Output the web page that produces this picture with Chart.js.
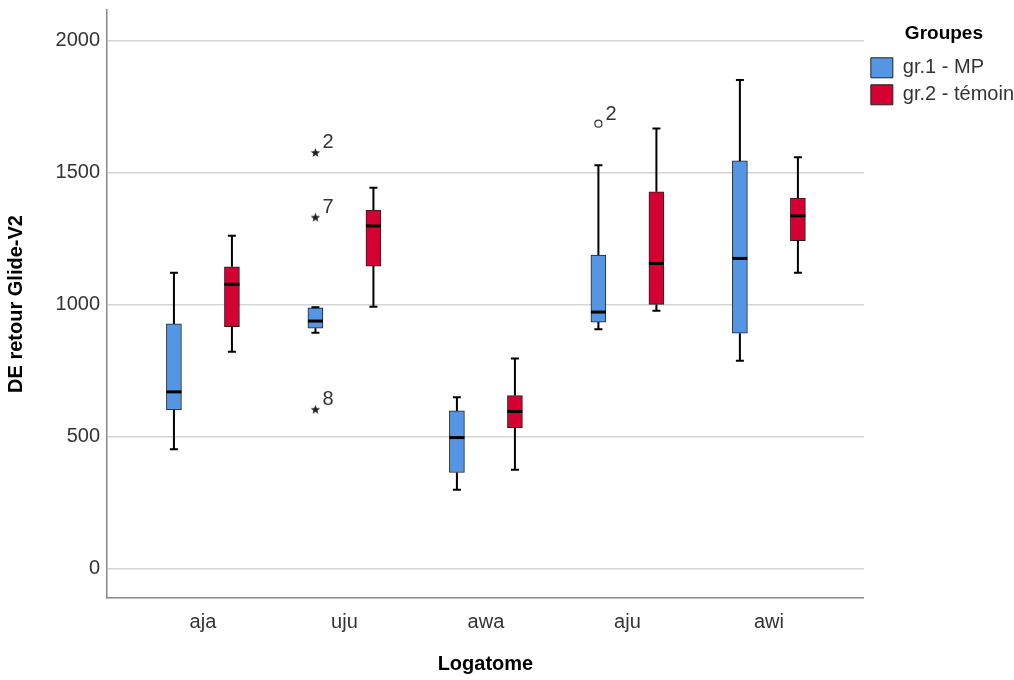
<!DOCTYPE html>
<html>
<head>
<meta charset="utf-8">
<script src="https://cdn.jsdelivr.net/npm/chart.js@4"></script>
<style>
  body { margin: 0; background: #fff; }
</style>
</head>
<body>
<canvas id="chart" width="1014" height="680"></canvas>
<script>
const categories = ['aja', 'uju', 'awa', 'aju', 'awi'];
const groupNames = ['gr.1 - MP', 'gr.2 - témoin'];

// five-number summaries
const g1Min = [453, 894, 300, 907, 788];
const g1Q1 = [602, 911, 365, 934, 892];
const g1Med = [670, 938, 497, 972, 1175];
const g1Q3 = [927, 988, 598, 1188, 1544];
const g1Max = [1121, 990, 650, 1528, 1850];

const g2Min = [822, 992, 375, 977, 1121];
const g2Q1 = [917, 1146, 535, 1001, 1242];
const g2Med = [1077, 1298, 596, 1156, 1336];
const g2Q3 = [1143, 1358, 656, 1427, 1403];
const g2Max = [1261, 1442, 796, 1667, 1558];

// outliers of group 1 (category index, value, case label)
const g1ExtremeCat = [1, 1, 1];
const g1ExtremeVal = [1576, 1331, 604];
const g1ExtremeLbl = ['2', '7', '8'];
const g1OutlierCat = [3];
const g1OutlierVal = [1685];
const g1OutlierLbl = ['2'];

const yTicks = [0, 500, 1000, 1500, 2000];

const FONT = "'Liberation Sans', Arial, sans-serif";
const BLUE = '#5596e4';
const RED = '#d50032';
const SHIFT = 0.205;

const groups = [
  { shift: -SHIFT, min: g1Min, q1: g1Q1, med: g1Med, q3: g1Q3, max: g1Max },
  { shift: SHIFT, min: g2Min, q1: g2Q1, med: g2Med, q3: g2Q3, max: g2Max }
];

// small filled star for extreme values
function starImage() {
  const c = document.createElement('canvas');
  c.width = 11; c.height = 11;
  const g = c.getContext('2d');
  g.beginPath();
  for (let i = 0; i < 10; i++) {
    const r = i % 2 === 0 ? 5 : 2.1;
    const a = -Math.PI / 2 + i * Math.PI / 5;
    const px = 5.5 + r * Math.cos(a), py = 6 + r * Math.sin(a);
    if (i === 0) g.moveTo(px, py); else g.lineTo(px, py);
  }
  g.closePath();
  g.fillStyle = '#222';
  g.fill();
  return c;
}

const whiskers = {
  id: 'whiskers',
  afterDatasetsDraw(chart) {
    const ctx = chart.ctx;
    const xs = chart.scales.x, ys = chart.scales.y;
    ctx.save();
    ctx.strokeStyle = '#000';
    groups.forEach(gr => {
      categories.forEach((c, i) => {
        const x = xs.getPixelForValue(i + gr.shift);
        const yMin = ys.getPixelForValue(gr.min[i]);
        const yQ1 = ys.getPixelForValue(gr.q1[i]);
        const yQ3 = ys.getPixelForValue(gr.q3[i]);
        const yMax = ys.getPixelForValue(gr.max[i]);
        const yMed = ys.getPixelForValue(gr.med[i]);
        ctx.lineWidth = 2;
        ctx.beginPath();
        ctx.moveTo(x, yQ3); ctx.lineTo(x, yMax);
        ctx.moveTo(x, yQ1); ctx.lineTo(x, yMin);
        ctx.moveTo(x - 4, yMax); ctx.lineTo(x + 4, yMax);
        ctx.moveTo(x - 4, yMin); ctx.lineTo(x + 4, yMin);
        ctx.stroke();
        ctx.lineWidth = 3;
        ctx.beginPath();
        ctx.moveTo(x - 7.5, yMed); ctx.lineTo(x + 7.5, yMed);
        ctx.stroke();
      });
    });
    // case labels next to outliers
    ctx.fillStyle = '#333';
    ctx.font = '20px ' + FONT;
    ctx.textBaseline = 'alphabetic';
    const lab = (cats, vals, lbls) => cats.forEach((c, k) => {
      const x = xs.getPixelForValue(c - SHIFT);
      const y = ys.getPixelForValue(vals[k]);
      ctx.fillText(lbls[k], x + 7, y - 4);
    });
    lab(g1ExtremeCat, g1ExtremeVal, g1ExtremeLbl);
    lab(g1OutlierCat, g1OutlierVal, g1OutlierLbl);
    ctx.restore();
  }
};

new Chart(document.getElementById('chart'), {
  type: 'bar',
  data: {
    datasets: [
      {
        label: groupNames[0],
        data: categories.map((c, i) => ({ x: i - SHIFT, y: [g1Q1[i], g1Q3[i]] })),
        backgroundColor: BLUE,
        borderColor: '#222',
        borderWidth: 1,
        borderSkipped: false,
        barThickness: 15,
        grouped: false
      },
      {
        label: groupNames[1],
        data: categories.map((c, i) => ({ x: i + SHIFT, y: [g2Q1[i], g2Q3[i]] })),
        backgroundColor: RED,
        borderColor: '#222',
        borderWidth: 1,
        borderSkipped: false,
        barThickness: 15,
        grouped: false
      },
      {
        type: 'scatter',
        label: 'extremes',
        data: g1ExtremeCat.map((c, k) => ({ x: c - SHIFT, y: g1ExtremeVal[k] })),
        pointStyle: starImage(),
        pointRadius: 5
      },
      {
        type: 'scatter',
        label: 'outliers',
        data: g1OutlierCat.map((c, k) => ({ x: c - SHIFT, y: g1OutlierVal[k] })),
        pointStyle: 'circle',
        pointRadius: 3.5,
        borderColor: '#333',
        borderWidth: 1.2,
        backgroundColor: '#fff'
      }
    ]
  },
  options: {
    responsive: false,
    animation: false,
    layout: { padding: { top: 10, left: 0, right: -10, bottom: 0 } },
    plugins: {
      legend: {
        position: 'right',
        align: 'start',
        title: {
          display: true,
          text: 'Groupes',
          color: '#000',
          font: { family: FONT, size: 19, weight: 'bold' },
          padding: { top: 14, bottom: 4 }
        },
        labels: {
          boxWidth: 22,
          boxHeight: 20,
          padding: 7,
          color: '#333',
          font: { family: FONT, size: 20 },
          filter: item => item.datasetIndex < 2
        }
      },
      tooltip: { enabled: false }
    },
    scales: {
      x: {
        type: 'linear',
        offset: false,
        min: -0.678,
        max: 4.671,
        afterBuildTicks: scale => { scale.ticks = categories.map((c, i) => ({ value: i })); },
        afterFit: scale => { scale.height = 82; scale.paddingLeft = 0; scale.paddingRight = 0; },
        grid: { display: false },
        border: { color: '#888', width: 1.5 },
        ticks: {
          padding: 4,
          color: '#333',
          font: { family: FONT, size: 20 },
          callback: v => categories[v]
        },
        title: {
          display: true,
          text: 'Logatome',
          color: '#000',
          font: { family: FONT, size: 20, weight: 'bold' },
          padding: { top: 18 }
        }
      },
      y: {
        min: -110,
        max: 2115,
        afterBuildTicks: scale => { scale.ticks = yTicks.map(v => ({ value: v })); },
        afterFit: scale => { scale.width = 107; scale.paddingTop = 0; scale.paddingBottom = 0; },
        grid: { color: '#d4d4d4', lineWidth: 1.6, drawTicks: false },
        border: { color: '#888', width: 1.5 },
        ticks: {
          padding: 7,
          color: '#333',
          font: { family: FONT, size: 20 },
          callback: v => String(v)
        },
        title: {
          display: true,
          text: 'DE retour Glide-V2',
          color: '#000',
          font: { family: FONT, size: 20, weight: 'bold' }
        }
      }
    }
  },
  plugins: [whiskers]
});
</script>
</body>
</html>
